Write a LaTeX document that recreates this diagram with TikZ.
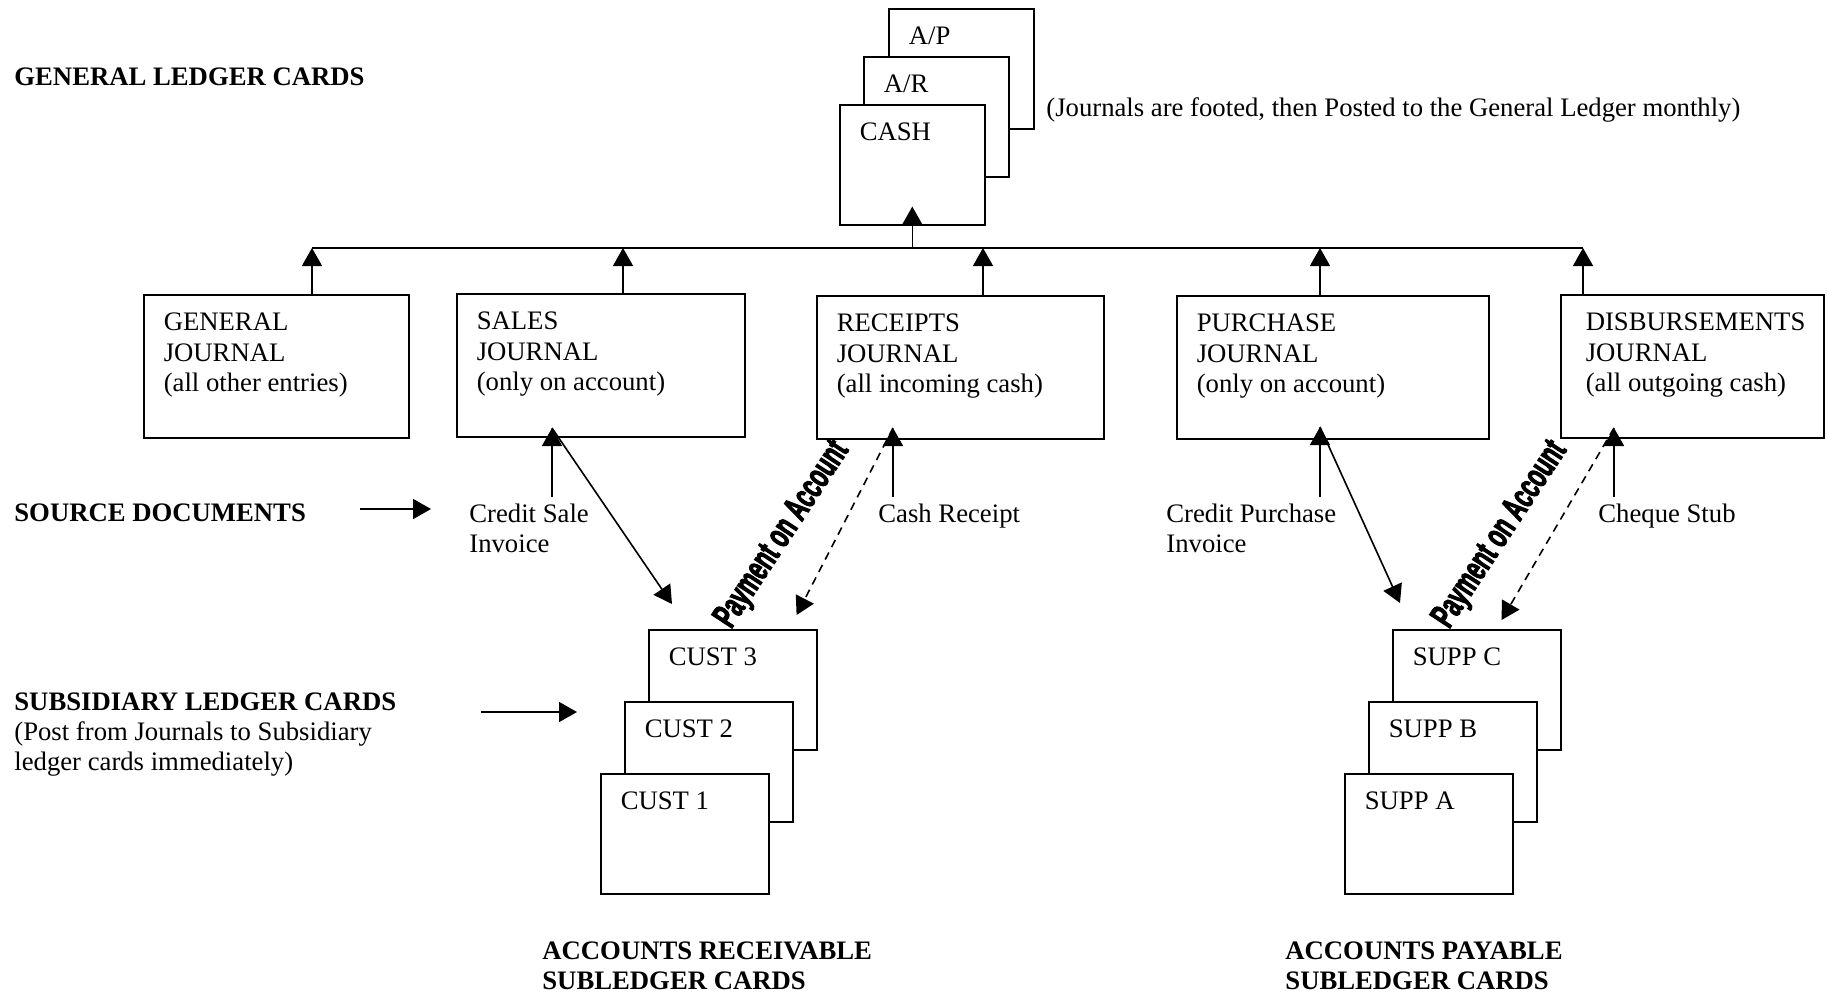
\documentclass[tikz,border=0pt]{standalone}
\usepackage{fontspec}
\setmainfont{Liberation Serif}
\newfontfamily\payfont[FakeStretch=0.6,FakeBold=2.6]{Liberation Sans}
\usetikzlibrary{arrows.meta}

\begin{document}
\begin{tikzpicture}[x=0.5pt,y=-0.5pt,
		every node/.style={font=\fontsize{13.35pt}{15.2pt}\selectfont}]
	\useasboundingbox (0,0) rectangle (1828,996);
	\begin{scope}
		[
			styleBox/.style={draw, line width=0.8pt, fill=white,
				anchor=north west, align=flush left,
				inner xsep=10pt, inner ysep=0pt, text height=18pt},
			styleCard/.style={styleBox, text width=#1, text depth=42pt},
			styleJournal/.style={styleBox, text width=#1, text depth=53.5pt},
			styleText/.style={anchor=base west, align=flush left,
				inner xsep=0pt, inner ysep=3pt},
			styleHead/.style={styleText,
				font=\fontsize{13.35pt}{15.2pt}\selectfont\bfseries},
			payment/.style={rotate=56.7, inner sep=0pt,
				font=\payfont\bfseries\fontsize{18pt}{18pt}\selectfont},
		]
		\node(ap)[styleCard=52.5pt] at (888,8) {A/P};
		\node(ar)[styleCard=52.5pt] at (863,56) {A/R};
		\node(cash)[styleCard=52.5pt] at (839,104) {CASH};
		\node(note)[styleText] at (1046,116) {(Journals are footed, then Posted to the General Ledger monthly)};
		\node(glc)[styleHead] at (14,85) {GENERAL LEDGER CARDS};

		\node(gen)[styleJournal=112.5pt] at (143,294) {GENERAL\\JOURNAL\\(all other entries)};
		\node(sales)[styleJournal=124pt] at (456,293) {SALES\\JOURNAL\\(only on account)};
		\node(rec)[styleJournal=123.5pt] at (816,295) {RECEIPTS\\JOURNAL\\(all incoming cash)};
		\node(pur)[styleJournal=136pt] at (1176,295) {PURCHASE\\JOURNAL\\(only on account)};
		\node(disb)[styleJournal=106.5pt, inner xsep=12.5pt] at (1560,294) {DISBURSEMENTS\\JOURNAL\\(all outgoing cash)};

		\node(srchd)[styleHead] at (14,521) {SOURCE DOCUMENTS};
		\node(csi)[styleText, text width=70pt] at (469,522) {Credit Sale\\Invoice};
		\node(crc)[styleText] at (878,522) {Cash Receipt};
		\node(cpi)[styleText, text width=95pt] at (1166,522) {Credit Purchase\\Invoice};
		\node(chq)[styleText] at (1598,522) {Cheque Stub};

		\node(subhd)[styleHead] at (14,710) {SUBSIDIARY LEDGER CARDS};
		\node(subnote)[styleText, text width=200pt] at (14,740) {(Post from Journals to Subsidiary\\ledger cards immediately)};

		\node(cust3)[styleCard=64pt] at (648,629) {CUST 3};
		\node(cust2)[styleCard=64pt] at (624,701) {CUST 2};
		\node(cust1)[styleCard=64pt] at (600,773) {CUST 1};
		\node(suppC)[styleCard=64pt] at (1392,629) {SUPP C};
		\node(suppB)[styleCard=64pt] at (1368,701) {SUPP B};
		\node(suppA)[styleCard=64pt] at (1344,773) {SUPP A};

		\node(arhd)[styleHead, text width=180pt] at (542,959) {ACCOUNTS RECEIVABLE\\SUBLEDGER CARDS};
		\node(aphd)[styleHead, text width=180pt] at (1285,959) {ACCOUNTS PAYABLE\\SUBLEDGER CARDS};

		\node(payR)[payment] at (783,535) {Payment on Account};
		\node(payD)[payment] at (1501,535) {Payment on Account};
	\end{scope}
	\begin{scope}
		[post/.style={-{Triangle[width=10pt,length=9pt]}, line width=0.8pt},
		postDash/.style={post, dash pattern=on 4pt off 3pt}]
		\coordinate (busG) at (312,248);
		\coordinate (busS) at (623,248);
		\coordinate (busR) at (983,248);
		\coordinate (busP) at (1320,248);
		\coordinate (busD) at (1583,248);
		\coordinate (inS) at (552,428);
		\coordinate (inR) at (893,428);
		\coordinate (inP) at (1320,427);
		\coordinate (inD) at (1614,428);

		\draw[line width=0.8pt] (busG) -- (busD);
		\path
		(cash.south |- busG) edge[post] ([yshift=9.5pt]cash.south)
		(gen.north -| busG) edge[post] (busG)
		(sales.north -| busS) edge[post] (busS)
		(rec.north -| busR) edge[post] (busR)
		(pur.north -| busP) edge[post] (busP)
		(disb.north -| busD) edge[post] (busD)

		(csi.north -| inS) edge[post] (inS)
		(crc.north -| inR) edge[post] (inR)
		(cpi.north -| inP) edge[post] (inP)
		(chq.north -| inD) edge[post] (inD)

		(inS) edge[post] ([xshift=12pt,yshift=12.5pt]cust3.north west)
		(inP) edge[post] ([xshift=4pt,yshift=13pt]suppC.north west)
		(inR) edge[postDash] ([xshift=-10.5pt,yshift=7pt]cust3.north east)
		(inD) edge[postDash] ([xshift=-30pt,yshift=4.5pt]suppC.north east)

		([xshift=27pt,yshift=6pt]srchd.base east) edge[post] ([xshift=-19pt,yshift=6pt]srchd.base east -| csi.west)
		([xshift=42pt,yshift=-1pt]subhd.base east) edge[post] ([xshift=-11.5pt,yshift=-1pt]subhd.base east -| cust1.west);
	\end{scope}
\end{tikzpicture}
\end{document}
